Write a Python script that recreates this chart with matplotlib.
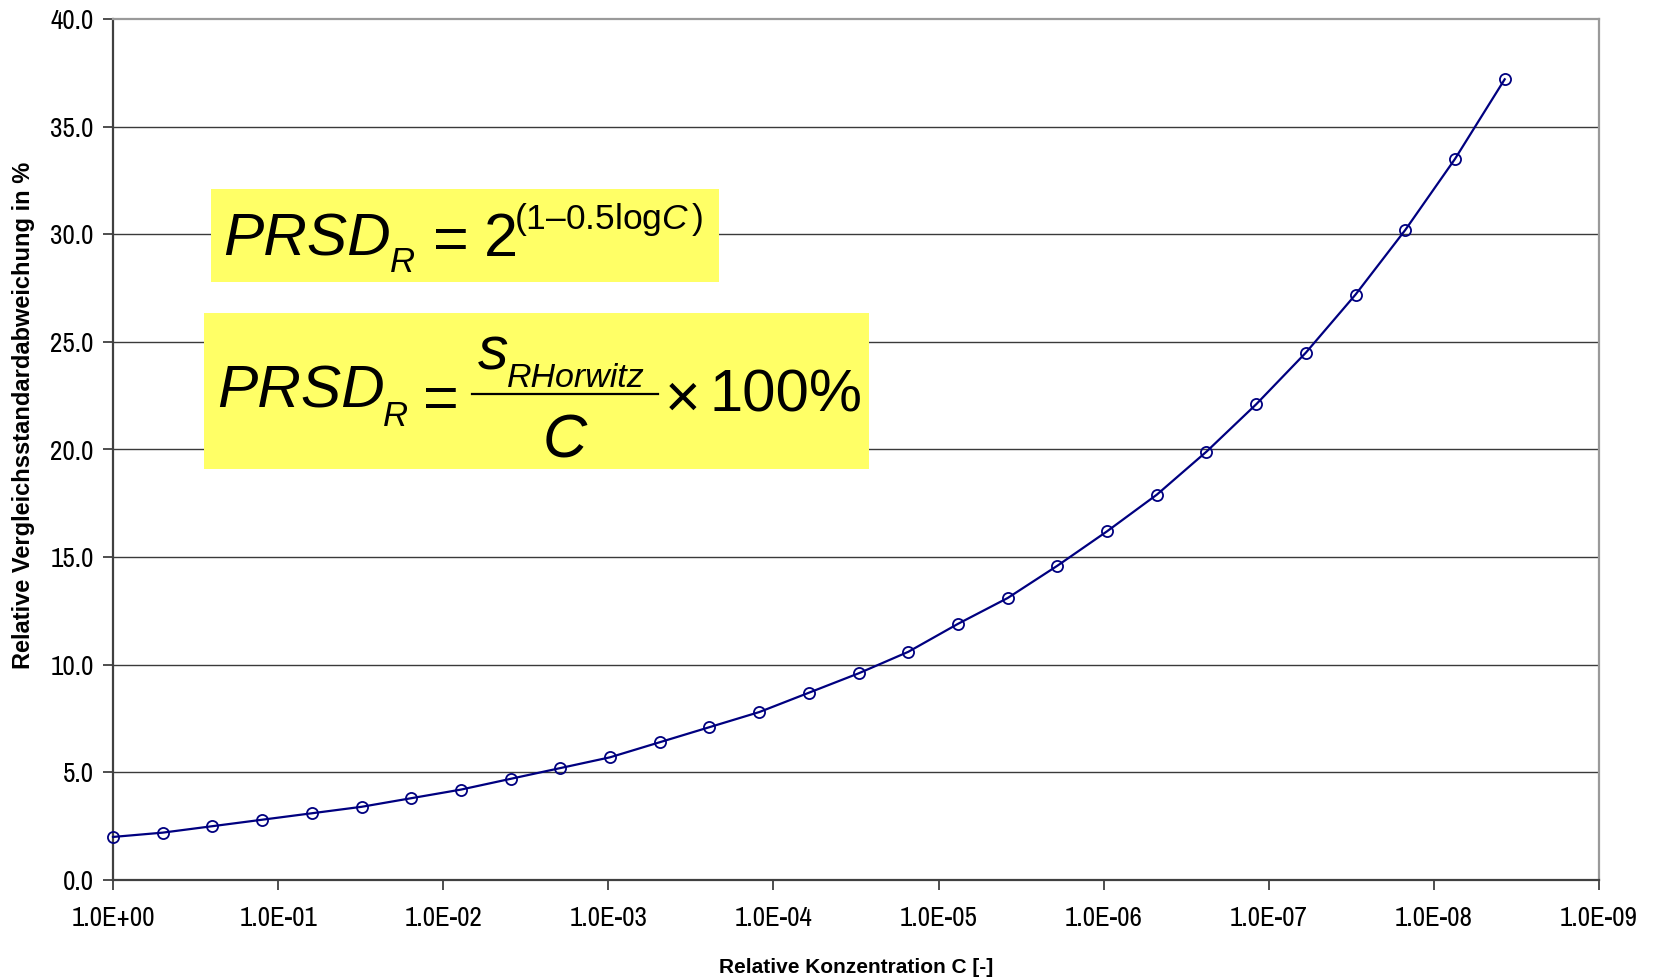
import matplotlib
matplotlib.use("Agg")
import matplotlib.pyplot as plt
from matplotlib import font_manager
from matplotlib.patches import Rectangle
from matplotlib.lines import Line2D
from matplotlib.ticker import FixedLocator, NullLocator

names = {f.name for f in font_manager.fontManager.ttflist}

# Data
conc = [1.0, 0.5, 0.25, 0.125, 0.0625, 0.03125, 0.015625, 0.0078125,
        0.00390625, 0.001953125, 9.765625e-4, 4.8828125e-4, 2.44140625e-4,
        1.220703125e-4, 6.1035e-5, 3.0518e-5, 1.5259e-5, 7.6294e-6,
        3.8147e-6, 1.9073e-6, 9.5367e-7, 4.7684e-7, 2.3842e-7, 1.1921e-7,
        5.9605e-8, 2.9802e-8, 1.4901e-8, 7.4506e-9, 3.7253e-9]
prsd = [2.0, 2.2, 2.5, 2.8, 3.1, 3.4, 3.8, 4.2, 4.7, 5.2, 5.7, 6.4, 7.1,
        7.8, 8.7, 9.6, 10.6, 11.9, 13.1, 14.6, 16.2, 17.9, 19.9, 22.1,
        24.5, 27.2, 30.2, 33.5, 37.2]
xticks = [1e0, 1e-1, 1e-2, 1e-3, 1e-4, 1e-5, 1e-6, 1e-7, 1e-8, 1e-9]
xticklabels = ["1.0E+00", "1.0E-01", "1.0E-02", "1.0E-03", "1.0E-04",
               "1.0E-05", "1.0E-06", "1.0E-07", "1.0E-08", "1.0E-09"]
yticks = [0, 5, 10, 15, 20, 25, 30, 35, 40]
yticklabels = ["0.0", "5.0", "10.0", "15.0", "20.0", "25.0", "30.0", "35.0", "40.0"]
xlabel = "Relative Konzentration C [-]"
ylabel = "Relative Vergleichsstandardabweichung in %"

NARROW = "Archivo Narrow" if "Archivo Narrow" in names else "Liberation Sans"
plt.rcParams['font.family'] = [NARROW, 'Liberation Sans', 'DejaVu Sans']
plt.rcParams['mathtext.fontset'] = 'custom'
plt.rcParams['mathtext.rm'] = 'Liberation Sans'
plt.rcParams['mathtext.it'] = 'Liberation Sans:italic'
plt.rcParams['mathtext.bf'] = 'Liberation Sans:bold'

W, H = 1654, 980
fig = plt.figure(figsize=(W / 100, H / 100), dpi=100)
L, R, T, B = 113, 1599, 19, 880
ax = fig.add_axes([L / W, 1 - B / H, (R - L) / W, (B - T) / H])

ax.set_xscale('log')
ax.set_xlim(1e0, 1e-9)
ax.set_ylim(0, 40)

for y in yticks[1:-1]:
    ax.axhline(y, color='#3a3a3a', lw=1.0, zorder=1)

ax.plot(conc, prsd, color='#000080', lw=1.6, marker='o', ms=8,
        mfc='none', mec='#000080', mew=1.3, zorder=5, clip_on=False)

ax.xaxis.set_major_locator(FixedLocator(xticks))
ax.xaxis.set_minor_locator(NullLocator())
ax.set_xticklabels(xticklabels)
ax.set_yticks(yticks)
ax.set_yticklabels(yticklabels)

for s in ['left', 'bottom']:
    ax.spines[s].set_color('#404040')
    ax.spines[s].set_linewidth(1.6)
for s in ['top', 'right']:
    ax.spines[s].set_color('#9a9a9a')
    ax.spines[s].set_linewidth(1.6)

ax.tick_params(axis='both', direction='out', length=7, width=1.3,
               color='#404040', labelsize=19.5, labelcolor='black')
ax.tick_params(axis='x', pad=12)
ax.tick_params(axis='y', pad=7)

fig.text(856 / W, 1 - 967 / H, xlabel, ha='center',
         va='center', fontsize=15, fontweight='bold', family='Liberation Sans')
fig.text(24 / W, 1 - 415 / H, ylabel,
         ha='center', va='center', rotation=90, fontsize=17, fontweight='bold',
         family='Liberation Sans')


def P(x, y):
    return (x / W, 1 - y / H)


def box(x0, y0, x1, y1):
    fig.patches.append(Rectangle(P(x0, y1), (x1 - x0) / W, (y1 - y0) / H,
                                 transform=fig.transFigure, facecolor='#ffff66',
                                 edgecolor='none', zorder=3))


def put(x, y, s, size, italic=False, ha='left'):
    fig.text(*P(x, y), s, fontsize=size, ha=ha, va='baseline', zorder=4,
             family='Liberation Sans', style='italic' if italic else 'normal')


box(211, 189, 719, 282)
box(204, 313, 869, 469)

# Formula 1
put(223, 256, "PRSD", 43.5, True)
put(390, 272, "R", 25, True)
put(451, 259, "=", 44, ha='center')
put(484, 256, "2", 44)
fig.text(*P(514, 229), r'$(1' + "\u2013" + r'0.5\mathrm{log}C\,)$', fontsize=25.5,
         ha='left', va='baseline', zorder=4)

# Formula 2
put(217, 408, "PRSD", 43.5, True)
put(383, 426, "R", 25, True)
put(441, 418, "=", 44, ha='center')
fig.lines.append(Line2D([472 / W, 658 / W], [1 - 394 / H] * 2, transform=fig.transFigure,
                        color='black', lw=1.6, zorder=4))
put(478, 370, "s", 44, True)
put(507, 387, "RHorwitz", 24.5, True)
put(565, 457, "C", 44, True, ha='center')
put(683, 417, "\u00d7", 44, ha='center')
put(710, 411, "100%", 43)

fig.savefig("out.png", dpi=100)
